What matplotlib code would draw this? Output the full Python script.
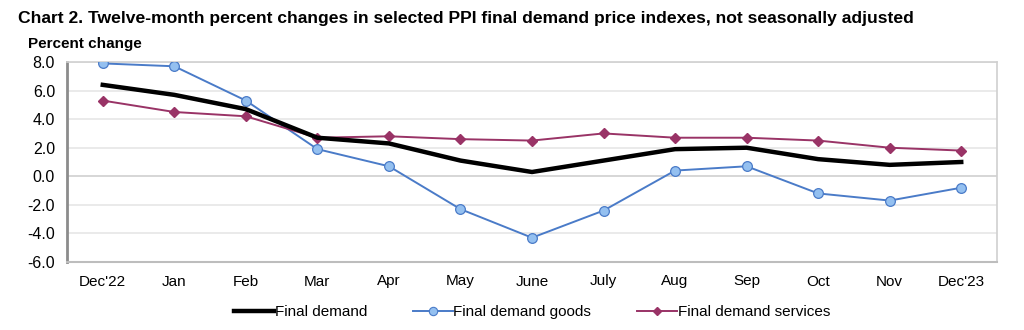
import matplotlib
matplotlib.use("Agg")
import matplotlib.pyplot as plt
from matplotlib.lines import Line2D

plt.rcParams['font.family'] = ['Liberation Sans', 'DejaVu Sans']

months = ["Dec'22", "Jan", "Feb", "Mar", "Apr", "May", "June", "July",
          "Aug", "Sep", "Oct", "Nov", "Dec'23"]
final_demand = [6.4, 5.7, 4.7, 2.7, 2.3, 1.1, 0.3, 1.1, 1.9, 2.0, 1.2, 0.8, 1.0]
final_goods = [7.9, 7.7, 5.3, 1.9, 0.7, -2.3, -4.3, -2.4, 0.4, 0.7, -1.2, -1.7, -0.8]
final_services = [5.3, 4.5, 4.2, 2.7, 2.8, 2.6, 2.5, 3.0, 2.7, 2.7, 2.5, 2.0, 1.8]
yticks = [-6.0, -4.0, -2.0, 0.0, 2.0, 4.0, 6.0, 8.0]

BLUE = "#4A7BC8"
BLUE_FILL = "#94C0F0"
PLUM = "#993366"

fig = plt.figure(figsize=(10.24, 3.30), dpi=100)
ax = fig.add_axes([67/1024, 1 - 262/330, 930/1024, 200/330])

x = list(range(len(months)))
ax.plot(x, final_demand, color="black", lw=3.2, zorder=4, solid_joinstyle="round")
ax.plot(x, final_goods, color=BLUE, lw=1.4, marker="o", ms=7,
        mfc=BLUE_FILL, mec=BLUE, mew=0.9, zorder=3)
ax.plot(x, final_services, color=PLUM, lw=1.4, marker="D", ms=5,
        mfc=PLUM, mec=PLUM, zorder=3)

ax.set_xlim(-0.5, len(months) - 0.5)
ax.set_ylim(-6, 8)
ax.set_yticks(yticks)
ax.set_yticklabels([f"{v:.1f}" for v in yticks], fontsize=11.5)
ax.set_xticks(x)
ax.set_xticklabels(months, fontsize=11)
ax.tick_params(length=0)
ax.tick_params(axis="x", pad=9)
ax.tick_params(axis="y", pad=8.6)
ax.grid(axis="y", color="#E6E6E6", lw=1.2, zorder=0)
ax.axhline(0, color="#8C8C8C", lw=1.4, zorder=1)

for side in ("top", "right"):
    ax.spines[side].set_color("#D0D0D0")
    ax.spines[side].set_linewidth(1.2)
ax.spines["left"].set_color("#8C8C8C")
ax.spines["left"].set_linewidth(2.0)
ax.spines["bottom"].set_color("#BDBDBD")
ax.spines["bottom"].set_linewidth(1.5)

fig.text(18/1024, 1 - 19/330, "Chart 2. Twelve-month percent changes in selected PPI final demand price indexes, not seasonally adjusted",
         fontsize=12.6, fontweight="bold", va="center", ha="left")
fig.text(28/1024, 1 - 44/330, "Percent change", fontsize=11, fontweight="bold",
         va="center", ha="left")

handles = [
    Line2D([], [], color="black", lw=3.2),
    Line2D([], [], color=BLUE, lw=1.4, marker="o", ms=6, mfc=BLUE_FILL, mec=BLUE, mew=0.8),
    Line2D([], [], color=PLUM, lw=1.4, marker="D", ms=4, mfc=PLUM, mec=PLUM),
]
fig.legend(handles, ["Final demand", "Final demand goods", "Final demand services"],
           loc="center", bbox_to_anchor=(532/1024, 1 - 312/330), ncol=3, frameon=False,
           fontsize=11, handlelength=2.6, handletextpad=0.05, columnspacing=3.0)

fig.savefig("out.png", dpi=100, facecolor="white")
